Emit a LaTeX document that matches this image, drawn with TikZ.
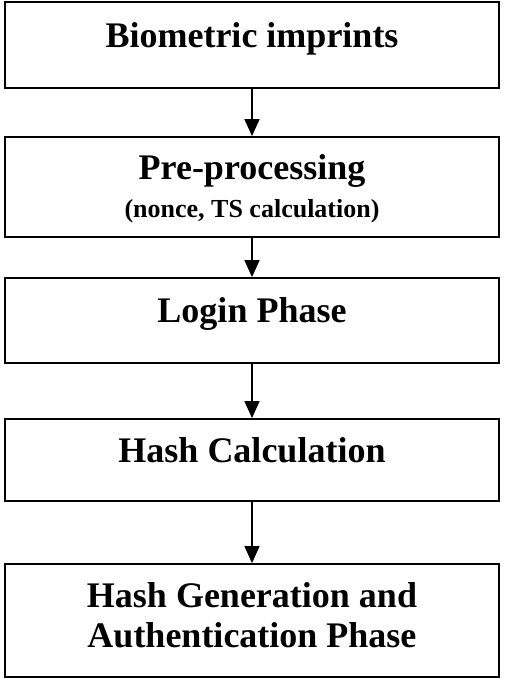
\documentclass[tikz,border=0pt]{standalone}
\usepackage{fontspec}
\setmainfont{Liberation Serif}
\usetikzlibrary{arrows.meta, positioning}

\begin{document}
\begin{tikzpicture}[x=1pt, y=-1pt, >={Triangle[width=15pt,length=17pt]}]
  \tikzset{
    stage/.style={draw, line width=1.8pt, minimum width=494pt, inner sep=0pt,
      font=\bfseries\fontsize{36}{35}\selectfont, align=center,
      text height=26pt, text depth=22pt},
    flow/.style={->, line width=1.6pt}
  }
  \useasboundingbox (0,0) rectangle (505,682);

  % ---- Stages ----
  \node[stage, minimum height=86pt, text depth=20pt] (bio) at (252,45) {Biometric imprints};
  \node[stage, minimum height=100pt, text height=69pt, text depth=9pt] (pre) at (252,187)
    {Pre-processing\\[3pt]{\fontsize{26}{30}\selectfont(nonce, TS calculation)}};
  \node[stage, minimum height=85pt, text depth=23pt] (login) at (252,320.5) {Login Phase};
  \node[stage, minimum height=82pt] (hash) at (252,460) {Hash Calculation};
  \node[stage, minimum height=113pt, text height=60pt, text depth=7pt] (auth) at (252,620.5)
    {Hash Generation and\\[5pt]Authentication Phase};

  % ---- Flow ----
  \draw[flow] (bio) -- (pre);
  \draw[flow] (pre) -- (login);
  \draw[flow] (login) -- (hash);
  \draw[flow] (hash) -- (auth);
\end{tikzpicture}
\end{document}
